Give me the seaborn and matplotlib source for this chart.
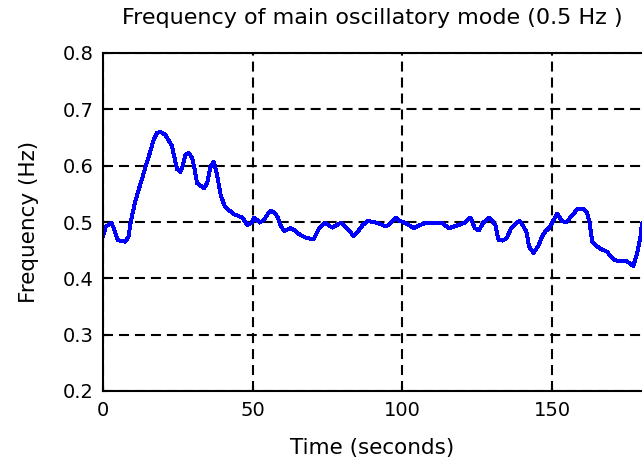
import matplotlib
matplotlib.use("Agg")
import matplotlib.pyplot as plt
import seaborn as sns
import pandas as pd

# Estimated frequency of the dominant oscillatory mode over time
time_s = [
    0.0, 0.9, 2.9, 4.0, 4.9, 7.4, 8.5, 9.4, 10.6, 11.7, 12.6, 13.7, 14.7,
    15.8, 16.9, 18.0, 19.1, 20.8, 23.0, 24.7, 25.8, 26.6, 27.5, 28.6, 29.8,
    30.6, 31.4, 33.7, 34.8, 35.9, 37.0, 38.1, 39.3, 40.7, 42.1, 43.7, 46.5,
    48.2, 49.6,
    50.5, 52.4, 53.8, 55.0, 56.2, 57.5, 58.4, 59.2, 60.5, 62.5, 64.2, 65.3,
    67.4, 70.3, 72.2, 74.0, 76.6, 79.5, 82.0, 83.7, 85.4, 86.8, 88.5, 91.0,
    93.2, 94.6, 96.0, 97.7, 99.1, 101.0, 103.8, 106.0, 108.0, 113.0, 115.5,
    118.9, 120.9, 122.7, 124.2, 125.5, 127.0, 129.0, 131.0, 132.1, 133.5,
    134.8, 136.3, 138.0, 139.2, 140.4, 141.4, 142.3, 143.8, 145.5, 146.6,
    147.7, 148.9, 150.0, 151.7, 153.2, 154.7, 156.5, 158.5, 160.5, 161.6,
    162.5, 163.4, 164.4, 166.3, 168.4, 169.7, 170.8, 172.5, 175.0, 177.1,
    178.5, 179.4, 180.0,
]
freq_hz = [
    0.474, 0.492, 0.498, 0.483, 0.468, 0.465, 0.474, 0.504, 0.533, 0.554,
    0.569, 0.589, 0.607, 0.625, 0.646, 0.658, 0.660, 0.655, 0.635, 0.594,
    0.589, 0.599, 0.619, 0.623, 0.613, 0.594, 0.569, 0.560, 0.569, 0.598,
    0.607, 0.583, 0.548, 0.527, 0.521, 0.514, 0.508, 0.495, 0.498,
    0.508, 0.499, 0.504, 0.514, 0.520, 0.515, 0.508, 0.495, 0.484, 0.489,
    0.485, 0.479, 0.473, 0.469, 0.489, 0.499, 0.490, 0.499, 0.486, 0.475,
    0.485, 0.495, 0.502, 0.499, 0.495, 0.492, 0.498, 0.508, 0.502, 0.498,
    0.489, 0.495, 0.499, 0.499, 0.489,
    0.495, 0.499, 0.508, 0.489, 0.485, 0.499, 0.508, 0.495, 0.468, 0.467,
    0.471, 0.489, 0.498, 0.502, 0.492, 0.483, 0.456, 0.445, 0.459, 0.474,
    0.483, 0.489, 0.499, 0.515, 0.502, 0.499, 0.511, 0.523, 0.523, 0.518,
    0.498, 0.465, 0.459, 0.452, 0.447, 0.438, 0.433, 0.430, 0.430, 0.422,
    0.447, 0.471, 0.498,
]

x_ticks = [0, 50, 100, 150]
y_ticks = [0.2, 0.3, 0.4, 0.5, 0.6, 0.7, 0.8]

df = pd.DataFrame({"Time": time_s, "Frequency": freq_hz})

sns.set_style("white")
plt.rcParams["font.family"] = ["DejaVu Sans"]
plt.rcParams["lines.scale_dashes"] = False

W, H = 642, 463
fig = plt.figure(figsize=(W / 100, H / 100), dpi=100)
ax = fig.add_axes([103 / W, (H - 391) / H, 539 / W, 338 / H])

sns.lineplot(data=df, x="Time", y="Frequency", ax=ax, color="#0000ff",
             linewidth=2.1, estimator=None, sort=False, antialiased=False)

ax.set_xlim(0, 180)
ax.set_ylim(0.2, 0.8)
ax.set_xticks(x_ticks)
ax.set_yticks(y_ticks)
ax.set_xticklabels([str(t) for t in x_ticks])
ax.set_yticklabels([f"{t:.1f}" for t in y_ticks])

ax.grid(True, color="black", linestyle=(0, (7.2, 4.3)), linewidth=1.5)
ax.set_axisbelow(True)

for side in ("left", "bottom", "top"):
    ax.spines[side].set_visible(True)
    ax.spines[side].set_color("black")
    ax.spines[side].set_linewidth(1.5)
ax.spines["right"].set_visible(False)

ax.tick_params(axis="both", direction="in", length=3.5, width=1.5,
               colors="black", labelsize=14, pad=7,
               bottom=True, left=True, top=False, right=False)

ax.set_title("Frequency of main oscillatory mode (0.5 Hz )",
             fontsize=16, color="black", pad=21)
ax.set_xlabel("Time (seconds)", fontsize=15.5, color="black", labelpad=13)
ax.set_ylabel("Frequency (Hz)", fontsize=15.5, color="black", labelpad=17)

fig.savefig("out.png", dpi=100, facecolor="white")
